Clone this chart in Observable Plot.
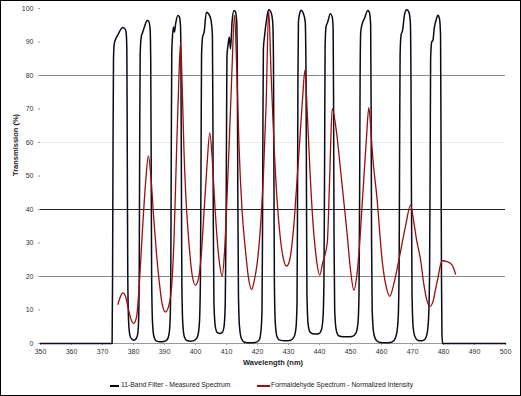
<!DOCTYPE html>
<html><head><meta charset="utf-8">
<script src="https://cdn.jsdelivr.net/npm/d3@7"></script>
<script src="https://cdn.jsdelivr.net/npm/@observablehq/plot@0.6"></script>
<style>
body{margin:0;background:#fff;}
#wrap{position:relative;width:521px;height:396px;overflow:hidden;font-family:"Liberation Sans",Arial,sans-serif;background:#fff;}
#chart{position:absolute;left:0;top:0;}
#frame{position:absolute;left:0;top:0;width:521px;height:396px;box-sizing:border-box;border:1px solid #000;pointer-events:none;}
.leg{position:absolute;top:380px;font-size:6.8px;color:#222;white-space:nowrap;line-height:10px;}
.sw{position:absolute;top:385px;height:2px;}
</style></head>
<body>
<div id="wrap">
  <div id="chart"></div>
  <div class="sw" style="left:110px;width:9px;background:#000;"></div>
  <div class="leg" style="left:121px;" id="leg1"></div>
  <div class="sw" style="left:257px;width:13px;background:#9a0e0e;"></div>
  <div class="leg" style="left:271px;" id="leg2"></div>
  <div id="frame"></div>
</div>
<script>
const seriesNames = ["11-Band Filter - Measured Spectrum", "Formaldehyde Spectrum - Normalized Intensity"];
const xTicks = [350,360,370,380,390,400,410,420,430,440,450,460,470,480,490,500];
const yTicks = [0,10,20,30,40,50,60,70,80,90,100];
const xLabel = "Wavelength (nm)";
const yLabel = "Transmission (%)";

const filterWl = [350.0,373.1,373.25,373.4,373.55,373.8,374.3,375.0,375.8,376.5,377.1,377.6,377.85,378.0,378.15,378.45,378.9,379.6,380.1,380.7,381.3,381.65,381.85,382.0,382.15,382.5,383.0,383.7,384.4,384.9,385.35,385.55,385.7,385.85,386.15,386.6,387.3,388.5,389.8,390.9,391.5,391.85,392.05,392.2,392.35,392.6,392.9,393.2,393.6,394.3,394.8,395.15,395.3,395.45,395.6,395.9,396.4,397.2,398.5,399.8,400.7,401.25,401.6,401.8,401.95,402.3,402.8,403.5,404.3,405.0,405.45,405.6,405.75,405.95,406.4,407.0,407.8,408.6,409.2,409.6,409.85,410.0,410.15,410.5,410.9,411.3,411.8,412.4,412.9,413.3,413.5,413.65,413.85,414.2,414.8,415.8,417.5,419.3,420.5,421.1,421.45,421.6,421.75,421.9,422.3,422.9,423.6,424.3,424.9,425.15,425.3,425.45,425.75,426.3,427.2,428.8,430.5,431.7,432.4,432.75,432.9,433.05,433.2,433.6,434.1,434.8,435.4,435.65,435.8,435.95,436.3,436.9,437.8,438.8,439.8,440.6,441.15,441.45,441.65,441.8,442.1,442.6,443.5,444.1,444.4,444.55,444.7,444.9,445.4,446.2,447.5,449.0,450.5,451.7,452.4,452.75,452.95,453.1,453.3,453.8,454.5,455.6,456.1,456.5,456.65,456.8,457.0,457.5,458.3,459.7,461.3,462.8,464.1,464.9,465.4,465.7,465.85,466.0,466.3,466.8,467.4,468.1,468.8,469.3,469.5,469.65,469.85,470.2,470.8,471.8,472.8,473.8,474.6,475.15,475.5,475.7,475.85,476.2,476.6,477.0,477.6,478.2,478.7,479.05,479.2,479.35,479.5,479.7,500.0];
const filterT = [0,0,20,60,85,89.5,91,92.2,93.6,94.3,94.1,93,88,55,20,6,2.2,1.2,1.0,1.3,2.5,7,22,60,86,91.5,93,95,96.4,96.2,94,85,55,20,6,2,0.8,0.5,0.6,1.2,3,8,25,60,87,92,94.5,93,95.5,97.9,97.5,95,85,50,18,6,2,0.9,0.7,1,2.2,6,20,58,86,91.5,93,98.9,98.3,96.5,92,70,35,12,5,3.3,3.0,3.3,5,12,35,62,86,89,91.5,88,96,99.4,99,96,80,45,15,5,1.5,0.4,0.2,0.3,1,3.5,10,30,65,88,92,96.5,99.6,99,96,85,50,18,6,2,1,0.8,0.9,1.8,4.5,12,40,80,96,98.5,99.5,98.5,96,80,45,15,6,3.5,2.9,2.8,2.9,4,8,20,55,88,94.5,95.8,98.4,97.5,94,70,30,10,4,2.3,2.0,2.0,2.1,3,6,15,45,80,93,95.5,97,99.4,98.8,95,70,30,10,3,1,0.3,0.2,0.3,1,3,8,25,60,86,92,93.5,98,99.6,99,96,80,45,15,5,2,0.9,0.8,1.1,2.5,7,20,55,85,90,90.5,94,96.5,98,97,92,60,20,3,0,0];

const hchoWl = [375.0,375.8,376.6,377.4,378.3,379.2,380.1,381.0,381.9,382.9,383.9,384.8,385.6,386.5,387.4,388.3,389.3,390.3,391.3,392.3,393.1,393.9,394.6,395.2,395.7,396.3,397.0,397.9,399.0,400.0,401.0,401.9,402.8,403.7,404.6,405.4,406.2,407.0,407.8,408.6,409.4,410.1,410.8,411.7,412.6,413.3,414.0,415.0,416.1,417.1,418.1,419.0,419.9,420.9,421.9,422.8,423.6,424.4,425.3,426.3,427.3,428.3,429.4,430.4,431.6,432.7,433.8,434.6,435.3,436.0,436.9,437.9,438.9,440.1,441.0,442.5,443.3,444.1,445.5,446.8,448.0,448.9,450.0,451.1,452.0,452.8,454.0,455.2,455.9,456.5,457.0,458.6,460.2,461.5,462.7,463.9,465.6,467.7,469.4,470.3,471.3,472.6,473.6,474.6,475.6,476.6,477.4,478.2,479.0,479.6,481.2,482.8,483.9];
const hchoI = [11.7,14.0,15.1,14.2,10.5,7.2,6.0,8,18,34,48,56.0,50,37.8,27,18.5,11.5,9.4,11,17,32,57.7,78,90.0,77,57,42,29.8,20,17.4,19.5,27,40,53,62.9,55,42,31,23.5,20.1,28,42,58,80,98,82,60,40,28,19.5,16.1,19,24,34,50,72,99.5,80,60,43,32,25.5,23.1,25,34,48,63,74,81.6,70,52,36,26,20.4,24,30,50,70.1,63,51.7,41,32.8,22,15.9,20,28,45,62,70.4,65,57.7,42.8,24.9,17,14.1,17.5,24.9,34.8,41.3,37,31,25,18,13,11.1,12.5,16,19.5,23.4,24.7,24.4,23.4,20.7];

const filterData = filterWl.map((w,i)=>({wl:w, v:filterT[i]}));
const hchoData = hchoWl.map((w,i)=>({wl:w, v:hchoI[i]}));

const chart = Plot.plot({
  width: 521, height: 370,
  marginLeft: 40, marginRight: 16, marginTop: 8, marginBottom: 27,
  style: {fontFamily: "'Liberation Sans', Arial, sans-serif", fontSize: "7px", color: "#333", background: "transparent"},
  x: {domain: [350, 500]},
  y: {domain: [0, 100]},
  marks: [
    Plot.ruleY([60], {stroke: "#e6e6e6", strokeWidth: 0.8}),
    Plot.ruleY([20, 80], {stroke: "#8a8a8a", strokeWidth: 1}),
    Plot.ruleY([40], {stroke: "#222", strokeWidth: 1}),
    Plot.ruleY([0], {stroke: "#999", strokeWidth: 1}),
    Plot.axisX({ticks: xTicks, tickSize: 2, tickPadding: 4, label: null, stroke: "#999", fill: "#333"}),
    Plot.axisY({ticks: yTicks, tickSize: 2, tickPadding: 5, label: null, stroke: "#999", fill: "#333"}),
    Plot.line(filterData, {x: "wl", y: "v", stroke: "#0a0a18", strokeWidth: 1.5, curve: "monotone-x"}),
    Plot.line(hchoData, {x: "wl", y: "v", stroke: "#9a0e0e", strokeWidth: 1.3, curve: "monotone-x"}),
    Plot.text([xLabel], {frameAnchor: "bottom", dy: 21, fontWeight: "bold", fontSize: 7.5, fill: "#222"}),
    Plot.text([yLabel], {frameAnchor: "left", dx: -25, rotate: -90, fontWeight: "bold", fontSize: 7.5, fill: "#222"})
  ]
});
document.getElementById("chart").appendChild(chart);
document.getElementById("leg1").textContent = seriesNames[0];
document.getElementById("leg2").textContent = seriesNames[1];
</script>
</body></html>
